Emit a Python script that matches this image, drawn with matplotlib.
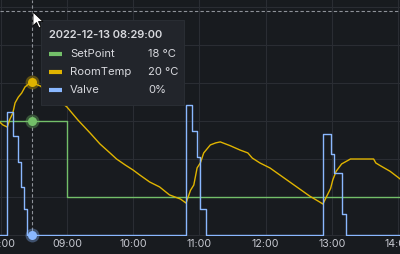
import matplotlib
matplotlib.use("Agg")
import matplotlib.pyplot as plt
from matplotlib.patches import Rectangle, Polygon
from matplotlib.lines import Line2D

# --- data (times as HH:MM) ---
setpoint_times = ["07:59", "09:00", "14:02"]
setpoint_vals = [18, 14, 14]

room_times = ["07:59", "08:02", "08:06", "08:08", "08:11", "08:13", "08:16", "08:19",
              "08:22", "08:26", "08:28", "08:31", "08:36", "08:40", "08:49", "09:00",
              "09:10", "09:21", "09:30", "09:39", "09:45", "09:53", "10:00", "10:06",
              "10:15", "10:24", "10:33", "10:43", "10:48", "10:52", "10:55", "10:58",
              "11:01", "11:04", "11:10", "11:15", "11:19", "11:28", "11:37", "11:44",
              "11:48", "11:55", "12:04", "12:13", "12:22", "12:31", "12:40", "12:49",
              "12:52", "12:56", "12:59", "13:01", "13:04", "13:09", "13:17", "13:38",
              "13:40", "13:44", "13:53", "14:02"]
room_vals = [17.95, 17.79, 17.68, 18.05, 18.42, 18.95, 19.26, 19.47,
             19.79, 19.98, 20.05, 19.95, 19.84, 19.63, 19.26, 18.74,
             18.05, 17.37, 16.79, 16.32, 16.0, 15.68, 15.42, 15.16,
             14.79, 14.53, 14.11, 13.89, 13.68, 14.35, 14.63, 15.53,
             15.8, 16.32, 16.74, 16.85, 16.9, 16.7, 16.47, 16.32,
             16.05, 15.79, 15.53, 15.16, 14.79, 14.42, 14.05, 13.74,
             13.63, 14.1, 14.45, 14.9, 15.35, 15.74, 16.0, 16.0,
             15.79, 15.65, 15.35, 14.95]

valve_times = ["07:59", "08:06", "08:11", "08:16", "08:18", "08:21", "08:24",
               "10:48", "10:53", "10:58", "11:01", "11:06",
               "12:52", "12:59", "13:02", "13:09", "13:13", "14:02"]
valve_vals = [0, 95, 76, 56, 37, 20, 0,
              100, 80, 60, 20, 0,
              78, 62, 48, 16, 0, 0]

tick_labels = ["08:00", "09:00", "10:00", "11:00", "12:00", "13:00", "14:00"]

hover_time = "08:28"
hover_title = "2022-12-13 08:29:00"
hover_rows = [("SetPoint", "18 °C"), ("RoomTemp", "20 °C"), ("Valve", "0%")]


def to_h(s):
    hh, mm = s.split(":")
    return int(hh) + int(mm) / 60.0


BG = "#181b1f"
GRID = "#2a2d33"
TXT = "#c7c9d1"
TIP_TXT = "#d8d9de"
GREEN = "#73BF69"
YELLOW = "#E0B400"
BLUE = "#8AB8FF"

plt.rcParams["font.family"] = ["Inter", "DejaVu Sans"]

fig = plt.figure(figsize=(4, 2.54), dpi=100, facecolor=BG)
ax = fig.add_axes([0, 18 / 254, 1, 236 / 254], facecolor=BG)
ax2 = ax.twinx()

ax.set_xlim(7.98943, 14.0317)
ax.set_ylim(12 - 1 / 19, 12 + 235 / 19)
ax2.set_ylim(-1 / 1.3, 235 / 1.3)

ax.set_yticks(range(12, 25, 2))
ax.set_yticklabels([])
ax2.set_yticks([])
ax.set_xticks([to_h(t) for t in tick_labels])
ax.set_xticklabels(tick_labels, color=TXT, fontsize=7.7)
ax.tick_params(axis="both", length=0, pad=2.5)
ax.grid(True, color=GRID, lw=0.8)
ax.set_axisbelow(True)
for a in (ax, ax2):
    for sp in a.spines.values():
        sp.set_visible(False)

lw = 1.0
ax.plot([to_h(t) for t in setpoint_times], setpoint_vals, color=GREEN, lw=lw,
        drawstyle="steps-post")
ax.plot([to_h(t) for t in room_times], room_vals, color=YELLOW, lw=lw)
ax2.plot([to_h(t) for t in valve_times], valve_vals, color=BLUE, lw=lw,
         drawstyle="steps-post")

# crosshair
hx = to_h(hover_time)
ax.axvline(hx, color="#8e9299", lw=0.8, ls=(0, (3, 2)))
ax.axhline(23.79, color="#8e9299", lw=0.8, ls=(0, (3, 2)))

room_at = room_vals[room_times.index(hover_time)]
sp_at = setpoint_vals[0]
v_at = 0
for a, yv, c in [(ax, room_at, YELLOW), (ax, sp_at, GREEN), (ax2, v_at, BLUE)]:
    a.plot([hx], [yv], "o", ms=10, color=c, alpha=0.35, mec="none", zorder=5, clip_on=False)
    a.plot([hx], [yv], "o", ms=6.5, color=c, mec="none", zorder=6, clip_on=False)

# tooltip (figure pixel coords, y from top)
H = 254.0


def fx(x):
    return x / 400.0


def fy(y):
    return (H - y) / H


fig.patches.append(Rectangle((fx(41), fy(105)), fx(143), (105 - 20) / H,
                             transform=fig.transFigure, facecolor="#22252b",
                             edgecolor="#2c3036", lw=0.6, zorder=10))
fig.text(fx(49), fy(35), hover_title, color=TIP_TXT, fontsize=8.0, fontweight="semibold",
         va="center", ha="left", zorder=11)
colors = [GREEN, YELLOW, BLUE]
for i, ((name, val), c) in enumerate(zip(hover_rows, colors)):
    y = 54 + 18 * i
    fig.lines.append(Line2D([fx(49), fx(62)], [fy(y), fy(y)], transform=fig.transFigure,
                            color=c, lw=3, solid_capstyle="butt", zorder=11))
    fig.text(fx(70), fy(y), name, color=TIP_TXT, fontsize=8.1, va="center", ha="left", zorder=11)
    fig.text(fx(148), fy(y), val, color=TIP_TXT, fontsize=8.1, va="center", ha="left", zorder=11)

# mouse pointer
cx, cy = 33, 12
arrow = [(0, 0), (0, 14), (3.5, 10.5), (6, 16), (8, 15), (5.5, 9.5), (10, 9.5)]
fig.patches.append(Polygon([(fx(cx + px), fy(cy + py)) for px, py in arrow], closed=True,
                           transform=fig.transFigure, facecolor="white",
                           edgecolor="black", lw=0.6, zorder=12))

fig.savefig("out.png", dpi=100, facecolor=BG)
